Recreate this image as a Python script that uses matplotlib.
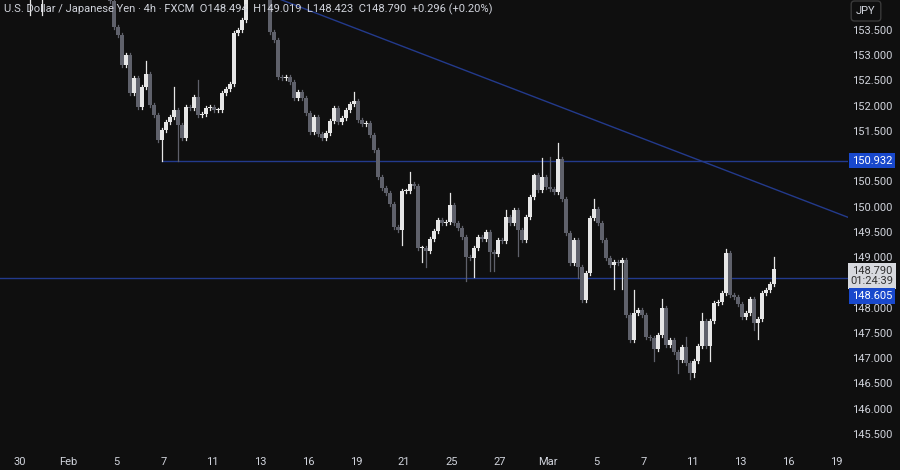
import matplotlib
matplotlib.use("Agg")
import matplotlib.pyplot as plt
from matplotlib.patches import Rectangle

plt.rcParams['font.family'] = ['Roboto', 'DejaVu Sans']

closes = [154.3,154.2,154.25,154.35,154.2,154.3,154.5,154.7,154.9,155.1,155.0,154.8,154.9,155.1,155.0,154.8,154.6,154.4,
 154.5,154.3,154.4,154.2,154.1,
 153.58,153.42,152.83,153.02,152.27,152.57,152.00,152.39,152.65,152.04,151.84,151.34,151.54,151.70,151.80,151.94,151.64,151.38,
 152.00,151.98,152.19,151.84,151.86,151.98,152.00,151.94,151.94,152.27,152.35,152.45,153.46,153.52,153.72,154.31,154.91,154.71,
 155.20,155.01,154.51,153.48,153.32,152.59,152.57,152.59,152.49,152.17,152.29,152.17,151.88,151.50,151.80,151.46,151.38,151.48,
 151.72,151.98,151.70,151.78,151.94,152.06,152.11,151.74,151.66,151.68,151.44,151.14,150.61,150.39,150.29,150.07,149.62,149.56,
 150.33,150.33,150.47,150.43,149.20,149.20,149.14,149.38,149.54,149.76,149.70,149.72,150.05,149.70,149.60,149.42,149.03,149.01,
 149.20,149.42,149.38,149.52,149.12,149.08,149.36,149.34,149.82,149.70,149.96,149.56,149.36,149.82,150.21,150.65,150.35,150.61,
 150.41,150.37,150.31,150.96,150.17,149.50,148.91,149.36,148.83,148.17,148.71,149.80,149.98,149.70,149.36,149.01,148.87,148.93,
 148.91,148.97,147.88,147.38,147.92,147.98,147.88,147.44,147.42,147.20,147.48,148.02,147.28,147.38,147.14,146.99,147.24,146.93,
 146.73,146.97,147.26,147.76,147.26,147.76,148.11,148.13,148.31,149.10,148.27,148.23,148.09,147.84,147.92,148.19,147.72,147.80,
 148.31,148.37,148.49,148.79]

# notable wick extremes (index: price)
wick_highs = {1:154.6, 4:154.5, 31:152.90, 38:152.39, 44:152.53, 83:152.29, 97:150.71, 107:150.29, 121:149.96,
              128:150.67, 130:150.98, 132:151.00, 134:151.28, 143:150.17, 153:148.37, 160:148.19, 166:147.44,
              170:147.92, 176:149.18, 188:149.03}
wick_lows = {2:153.82, 5:153.82, 35:150.93, 39:150.93, 95:149.26, 100:148.93, 101:148.83, 111:148.55, 113:148.62,
             117:148.74, 118:148.74, 124:149.05, 139:148.61, 148:148.39, 150:148.39, 152:147.34, 158:146.97,
             164:146.73, 167:146.61, 168:146.65, 172:146.97, 183:147.58, 184:147.40}

price_ticks = [153.5,153.0,152.5,152.0,151.5,150.5,150.0,149.5,149.0,148.0,147.5,147.0,146.5,146.0,145.5]
date_days = [0,2,4,6,8,10,12,14,16,18,20,22,24,26,28,30,32,34]
date_labels = ['30','Feb','5','7','11','13','16','19','21','25','27','Mar','5','7','11','13','16','19']
support_hi = 150.932
support_lo = 148.605
last_price = 148.790
trend_start = (62, 154.2)
trend_slope = -0.0304

BG = '#0f0f0f'
UP = '#e6e6e6'
DN = '#5f616b'
BLUE = '#233a8c'
TXT = '#d1d4dc'

fig = plt.figure(figsize=(9, 4.7), dpi=100, facecolor=BG)
ax = fig.add_axes([0, 20/470, 848/900, 450/470], facecolor=BG)
ax.set_xlim(-5.5, 206.5)
ax.set_ylim(145.20, 154.11)

for i, c in enumerate(closes):
    o = closes[i-1] if i > 0 else c + 0.1
    up = c >= o
    col = UP if up else DN
    top, bot = max(o, c), min(o, c)
    hi = wick_highs.get(i, top + 0.04)
    lo = wick_lows.get(i, bot - 0.04)
    ax.plot([i, i], [lo, hi], color=col, lw=0.9, zorder=2)
    h = max(top - bot, 0.02)
    ax.add_patch(Rectangle((i - 0.4, bot), 0.8, h, facecolor=col, edgecolor='none', zorder=3))

ax.axhline(support_lo, color=BLUE, lw=1.0, zorder=1)
ax.plot([35, 206.5], [support_hi, support_hi], color=BLUE, lw=1.0, zorder=1)
x0, y0 = trend_start
ax.plot([x0, 206.5], [y0, y0 + trend_slope*(206.5-x0)], color=BLUE, lw=1.0, zorder=1)

for s in ax.spines.values():
    s.set_visible(False)
ax.set_xticks([])
ax.set_yticks([])

def ytofig(p):
    return (20 + (p - 145.20) / (154.11 - 145.20) * 450) / 470

XL = 872/900
for p in price_ticks:
    fig.text(XL, ytofig(p), f"{p:.3f}", color=TXT, fontsize=8, ha='center', va='center')

def label(y, txt, fc, tc):
    fig.text(XL, y, txt, color=tc, fontsize=8, ha='center', va='center', zorder=6,
             bbox=dict(boxstyle='square,pad=0.25', facecolor=fc, edgecolor='none'))

label(ytofig(support_hi), f"{support_hi:.3f}", '#1848cc', 'white')
fig.text(XL, (470-276)/470, f"{last_price:.3f}\n01:24:39", color='#303030', fontsize=8, ha='center', va='center',
         zorder=6, linespacing=1.1, bbox=dict(boxstyle='square,pad=0.25', facecolor='#d7d9de', edgecolor='none'))
label((470-296)/470, f"{support_lo:.3f}", '#1848cc', 'white')

fig.text(866/900, (470-11)/470, "JPY", color=TXT, fontsize=8, ha='center', va='center', zorder=6,
         bbox=dict(boxstyle='round,pad=0.45,rounding_size=0.3', facecolor=BG, edgecolor='#3a3a3a', lw=1))

for d, lab in zip(date_days, date_labels):
    xi = d*6 - 0.5
    xf = (xi + 5.5) / 212 * 848 / 900
    fig.text(xf, 8/470, lab, color=TXT, fontsize=8, ha='center', va='center')

fig.text(4/900, (470-9)/470, "U.S. Dollar / Japanese Yen · 4h · FXCM  O148.494  H149.019  L148.423  C148.790  +0.296 (+0.20%)",
         color=TXT, fontsize=8, ha='left', va='center')

fig.savefig("out.png", dpi=100, facecolor=BG)
